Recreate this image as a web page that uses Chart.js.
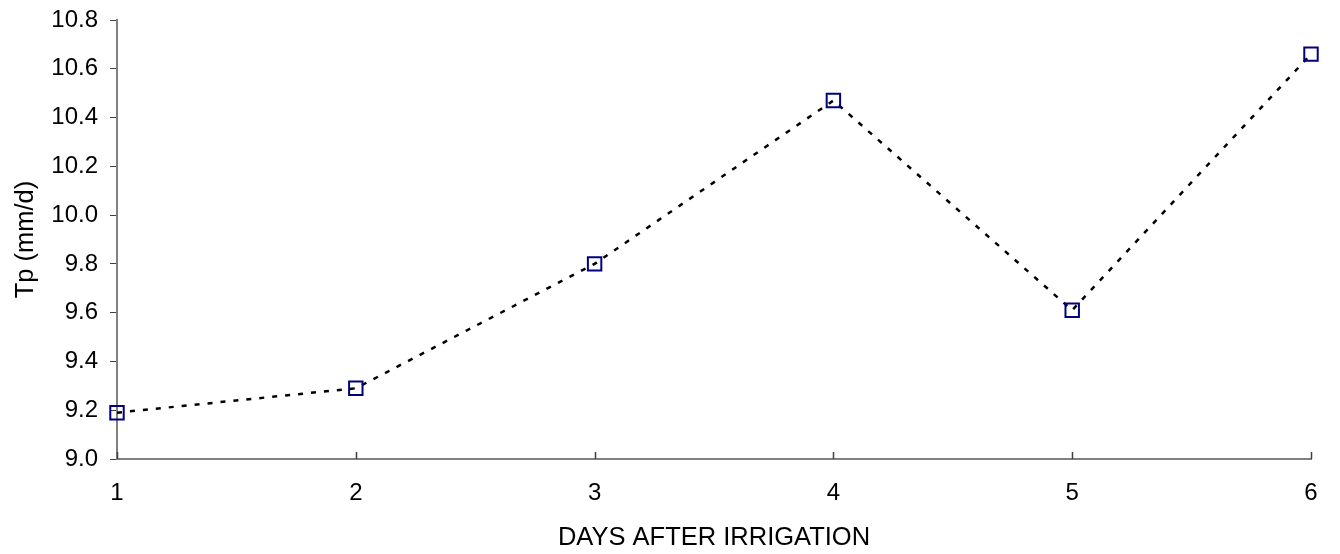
<!DOCTYPE html>
<html>
<head>
<meta charset="utf-8">
<script src="https://cdn.jsdelivr.net/npm/chart.js@4/dist/chart.umd.min.js"></script>
<style>
  html, body { margin: 0; padding: 0; background: #fff; }
  #wrap { width: 1340px; height: 554px; }
</style>
</head>
<body>
<div id="wrap"><canvas id="tpChart" width="1340" height="554"></canvas></div>
<script>
// values
const days = [1, 2, 3, 4, 5, 6];
const tpValues = [9.19, 9.29, 9.80, 10.47, 9.61, 10.66];
const yMin = 9.0;
const yMax = 10.8;
const yStep = 0.2;

const FONT = '"Liberation Sans", Arial, sans-serif';
const TICK_SIZE = 24;
const TITLE_SIZE = 25.5;
const AXIS_GRAY = '#808080';

// excel-style x ticks pointing up into the plot
const innerTicks = {
  id: 'innerTicks',
  afterDraw(chart) {
    const x = chart.scales.x;
    const ctx = chart.ctx;
    const bottom = chart.chartArea.bottom;
    ctx.save();
    ctx.strokeStyle = '#404040';
    ctx.lineWidth = 1.5;
    x.ticks.forEach((t) => {
      const px = Math.round(x.getPixelForValue(t.value)) + 0.5;
      ctx.beginPath();
      ctx.moveTo(px, bottom);
      ctx.lineTo(px, bottom - 7);
      ctx.stroke();
    });
    ctx.restore();
  },
};

const points = days.map((d, i) => ({ x: d, y: tpValues[i] }));

new Chart(document.getElementById('tpChart').getContext('2d'), {
  type: 'line',
  data: {
    datasets: [
      {
        label: 'Tp',
        data: points,
        borderColor: '#000000',
        borderWidth: 2.5,
        borderDash: [5, 8],
        tension: 0,
        fill: false,
        clip: false,
        pointStyle: 'rect',
        pointRadius: 9.5,
        pointBorderWidth: 2,
        pointBorderColor: '#000080',
        pointBackgroundColor: 'rgba(0,0,0,0)',
      },
    ],
  },
  options: {
    responsive: false,
    animation: false,
    devicePixelRatio: 1,
    layout: { padding: { left: 0, right: 29, top: 20, bottom: 0 } },
    plugins: {
      legend: { display: false },
      tooltip: { enabled: false },
    },
    scales: {
      x: {
        type: 'linear',
        min: 1,
        max: 6,
        afterFit: (s) => {
          s.height = 95;
          s.paddingLeft = 0;
          s.paddingRight = 0;
        },
        ticks: {
          stepSize: 1,
          padding: 20,
          color: '#000',
          font: { family: FONT, size: TICK_SIZE },
        },
        grid: { display: true, drawOnChartArea: false, drawTicks: false },
        border: { display: true, color: AXIS_GRAY, width: 2 },
        title: {
          display: true,
          text: 'DAYS AFTER IRRIGATION',
          color: '#000',
          font: { family: FONT, size: TITLE_SIZE },
          padding: { top: 0, bottom: 1 },
        },
      },
      y: {
        min: yMin,
        max: yMax,
        afterFit: (s) => {
          s.width = 117;
          s.paddingTop = 0;
          s.paddingBottom = 0;
        },
        ticks: {
          stepSize: yStep,
          padding: 12,
          color: '#000',
          font: { family: FONT, size: TICK_SIZE },
          callback: (v) => Number(v).toFixed(1),
        },
        grid: {
          display: true,
          drawOnChartArea: false,
          drawTicks: true,
          tickLength: 7,
          color: '#404040',
          lineWidth: 1,
        },
        border: { display: true, color: AXIS_GRAY, width: 2 },
        title: {
          display: true,
          text: 'Tp (mm/d)',
          color: '#000',
          font: { family: FONT, size: TITLE_SIZE },
          padding: { top: 11, bottom: 0 },
        },
      },
    },
  },
  plugins: [innerTicks],
});
</script>
</body>
</html>
